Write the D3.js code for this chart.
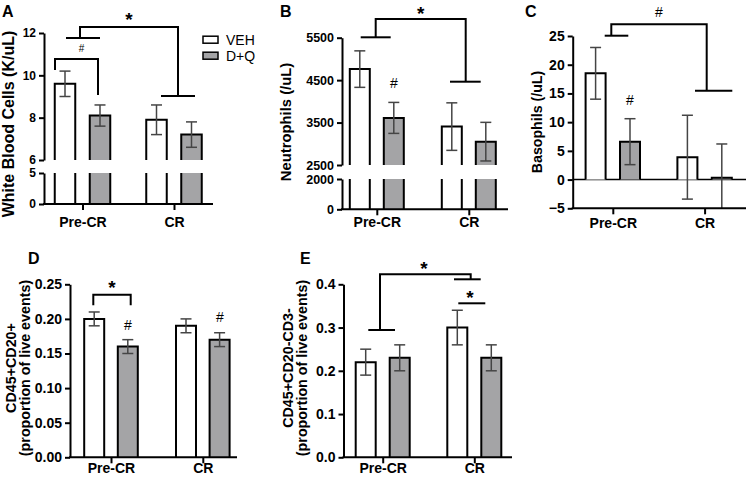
<!DOCTYPE html>
<html><head><meta charset="utf-8">
<script src="https://cdn.jsdelivr.net/npm/d3@7"></script>
<style>body{margin:0;background:#fff}svg{display:block;font-family:"Liberation Sans",Arial,sans-serif}</style>
</head><body><svg id="c" width="746" height="479"></svg>
<script>
// ---------- DATA ----------
const categories = ["Pre-CR", "CR"];
const groups = ["VEH", "D+Q"];

const wbcVEH = [9.6, 7.9],   wbcVEHerr = [0.6, 0.7];
const wbcDQ  = [8.1, 7.2],   wbcDQerr  = [0.5, 0.6];

const neuVEH = [4760, 3405], neuVEHerr = [430, 560];
const neuDQ  = [3610, 3050], neuDQerr  = [365, 455];

const basVEH = [18.5, 3.9],  basVEHerr = [4.5, 7.3];
const basDQ  = [6.6, 0.3],   basDQerr  = [4.0, 5.9];

const bVEH = [0.20, 0.19],   bVEHerr = [0.01, 0.01];
const bDQ  = [0.16, 0.17],   bDQerr  = [0.01, 0.01];

const nkVEH = [0.22, 0.30],  nkVEHerr = [0.03, 0.04];
const nkDQ  = [0.23, 0.23],  nkDQerr  = [0.03, 0.03];

const ticksA = [[0, 5], [6, 8, 10, 12]];
const ticksB = [[0, 2000], [2500, 3500, 4500, 5500]];
const ticksC = [-5, 0, 5, 10, 15, 20, 25];
const ticksD = [0, 0.05, 0.10, 0.15, 0.20, 0.25];
const ticksE = [0, 0.1, 0.2, 0.3, 0.4];

// ---------- LAYOUT ----------
const FONT = '"Liberation Sans", Arial, sans-serif';
const GRAY = "#a4a4a6", ERR = "#454545";
const svg = d3.select("#c");

const panels = [
  {letter:"A", lx:2, ly:17, x0:44, xEnd:213, c0:82.5, step:91.5, d:17.5, w:22.5,
   segs:[{dom:[0,5], rng:[204,173]}, {dom:[6,12], rng:[160,33]}], ticks:ticksA, fmt:d3.format("d"),
   base:0, veh:wbcVEH, vehE:wbcVEHerr, dq:wbcDQ, dqE:wbcDQerr,
   title:["White Blood Cells (K/uL)"], tx:[8], ty:124, tsize:16, tickFont:12, catY:227},
  {letter:"B", lx:280, ly:17, x0:342, xEnd:508, c0:376.8, step:92, d:17, w:22,
   segs:[{dom:[0,2000], rng:[209.3,179]}, {dom:[2500,5500], rng:[165,37.7]}], ticks:ticksB, fmt:d3.format("d"),
   base:0, veh:neuVEH, vehE:neuVEHerr, dq:neuDQ, dqE:neuDQerr,
   title:["Neutrophils (/uL)"], tx:[286], ty:122, tsize:14.8, tickFont:12.5, catY:227},
  {letter:"C", lx:525, ly:17, x0:572.7, xEnd:746, c0:612.8, step:91.8, d:17.2, w:22,
   segs:[{dom:[-5,25], rng:[208.3,36]}], ticks:[ticksC], fmt:d3.format("d"),
   base:0, zeroLine:true, veh:basVEH, vehE:basVEHerr, dq:basDQ, dqE:basDQerr,
   title:["Basophils (/uL)"], tx:[537], ty:122, tsize:14.2, tickFont:14, catY:228},
  {letter:"D", lx:28, ly:264, x0:70, xEnd:237, c0:111, step:91.8, d:16.8, w:22,
   segs:[{dom:[0,0.25], rng:[457.3,284.3]}], ticks:[ticksD], fmt:d3.format(".2f"),
   base:0, veh:bVEH, vehE:bVEHerr, dq:bDQ, dqE:bDQerr,
   title:["CD45+CD20+", "(proportion of live events)"], tx:[11, 25], ty:368, tsize:14.3, tickFont:14, catY:473},
  {letter:"E", lx:300, ly:264, x0:343.5, xEnd:512, c0:382.7, step:91.6, d:17, w:22,
   segs:[{dom:[0,0.4], rng:[457.3,284.3]}], ticks:[ticksE], fmt:d3.format(".1f"),
   base:0, veh:nkVEH, vehE:nkVEHerr, dq:nkDQ, dqE:nkDQerr,
   title:["CD45+CD20-CD3-", "(proportion of live events)"], tx:[288, 302], ty:368, tsize:14.3, tickFont:14, catY:473}
];

// significance annotations (decorations, pixel space)
const annotations = [
  {paths:["M55,70V59H98V95","M66,38H100","M80,38V27H178V96","M161,96H195"],
   marks:[{t:"#",x:81.5,y:48,s:10,b:false},{t:"*",x:129,y:15,s:19,b:true}]},
  {paths:["M360.7,37.3H390.7","M375.7,37.3V19H465.7V81.7","M450,81.7H480.7"],
   marks:[{t:"*",x:420.7,y:9.5,s:19,b:true},{t:"#",x:394,y:83,s:14,b:false}]},
  {paths:["M604.7,35.7H628.3","M611.3,35.7V24.3H706.7V90.7","M695,90.7H732.3"],
   marks:[{t:"#",x:659,y:11.7,s:14,b:false},{t:"#",x:630,y:100,s:14,b:false}]},
  {paths:["M93.3,305.3V294.7H130.7V305.3"],
   marks:[{t:"*",x:112,y:283.3,s:19,b:true},{t:"#",x:128,y:325,s:14,b:false},{t:"#",x:220,y:317.3,s:14,b:false}]},
  {paths:["M368.3,330H395","M380,330V274.3H470.7V279.3","M454,279.3H480.7","M458.3,303.3H485.3"],
   marks:[{t:"*",x:424,y:264,s:19,b:true},{t:"*",x:470,y:293.3,s:19,b:true}]}
];

function drawPanel(p) {
  const g = svg.append("g");
  const pad = (p.c0 - p.x0) / p.step;
  const x = d3.scalePoint().domain(categories)
    .range([p.x0, p.x0 + p.step * (1 + 2 * pad)]).padding(pad);
  const half = p.d + p.w / 2;
  const x1 = d3.scaleBand().domain(groups).range([-half, half]).paddingInner((2 * p.d - p.w) / (2 * p.d));
  const vals = {VEH: [p.veh, p.vehE], "D+Q": [p.dq, p.dqE]};

  p.segs.forEach((s, si) => {
    const y = d3.scaleLinear().domain(s.dom).range(s.rng);
    const ax = g.append("g").attr("transform", `translate(${p.x0},0)`)
      .call(d3.axisLeft(y).tickValues(p.ticks[si]).tickFormat(p.fmt).tickSize(5).tickSizeOuter(0));
    ax.select(".domain").attr("stroke", "#000").attr("stroke-width", 2);
    ax.selectAll(".tick line").attr("stroke", "#000").attr("stroke-width", 2);
    ax.selectAll(".tick text").attr("font-family", FONT).attr("font-size", p.tickFont)
      .attr("font-weight", "bold").attr("fill", "#000");

    if (p.zeroLine) {
      g.append("line").attr("x1", p.x0).attr("x2", p.xEnd).attr("y1", y(p.base)).attr("y2", y(p.base))
        .attr("stroke", "#000").attr("stroke-width", 1.5);
    }

    groups.forEach(grp => {
      const [m, e] = vals[grp];
      categories.forEach((c, ci) => {
        const v = m[ci];
        const lo = Math.max(p.base, s.dom[0]);
        if (v < s.dom[0]) return;
        const hiV = Math.min(v, s.dom[1]);
        const cx = x(c) + x1(grp) + x1.bandwidth() / 2;
        const l = cx - p.w / 2 + 1, r = cx + p.w / 2 - 1;
        const yb = y(lo), yt = y(hiV);
        g.append("rect").attr("x", l).attr("width", r - l)
          .attr("y", Math.min(yb, yt)).attr("height", Math.abs(yb - yt))
          .attr("fill", grp === "VEH" ? "#fff" : GRAY);
        const top = v <= s.dom[1];
        const path = top ? `M${l},${yb}V${yt}H${r}V${yb}` : `M${l},${yb}V${yt}M${r},${yt}V${yb}`;
        g.append("path").attr("d", path).attr("fill", "none").attr("stroke", "#000").attr("stroke-width", 2);
        if (v >= s.dom[0] && v <= s.dom[1]) {
          const e0 = Math.max(v - e[ci], s.dom[0]), e1 = Math.min(v + e[ci], s.dom[1]);
          const eg = g.append("g").attr("stroke", ERR).attr("stroke-width", 1.5);
          eg.append("line").attr("x1", cx).attr("x2", cx).attr("y1", y(e0)).attr("y2", y(e1));
          eg.append("line").attr("x1", cx - 5.5).attr("x2", cx + 5.5).attr("y1", y(e1)).attr("y2", y(e1));
          if (v - e[ci] >= s.dom[0])
            eg.append("line").attr("x1", cx - 5.5).attr("x2", cx + 5.5).attr("y1", y(e0)).attr("y2", y(e0));
        }
      });
    });
  });

  const yBot = p.segs[0].rng[0];
  const xa = g.append("g").attr("transform", `translate(0,${yBot})`)
    .call(d3.axisBottom(x).tickSize(6).tickSizeOuter(0));
  xa.select(".domain").remove();
  xa.selectAll(".tick line").attr("stroke", "#000").attr("stroke-width", 2);
  xa.selectAll(".tick text").attr("font-family", FONT).attr("font-size", 14).attr("font-weight", "bold")
    .attr("fill", "#000").attr("dy", null).attr("y", p.catY - yBot);
  g.append("line").attr("x1", p.x0 - 1).attr("x2", p.xEnd).attr("y1", yBot).attr("y2", yBot)
    .attr("stroke", "#000").attr("stroke-width", 2);

  p.title.forEach((t, i) => {
    g.append("text").attr("transform", `translate(${p.tx[i]},${p.ty}) rotate(-90)`)
      .attr("text-anchor", "middle").attr("dominant-baseline", "central")
      .attr("font-family", FONT).attr("font-weight", "bold").attr("font-size", p.tsize).text(t);
  });
  g.append("text").attr("x", p.lx).attr("y", p.ly).attr("font-family", FONT)
    .attr("font-weight", "bold").attr("font-size", 16).text(p.letter);
}

panels.forEach(drawPanel);

annotations.forEach(a => {
  a.paths.forEach(d => svg.append("path").attr("d", d).attr("fill", "none")
    .attr("stroke", "#000").attr("stroke-width", 2));
  a.marks.forEach(m => {
    const off = m.t === "*" ? 0.57 : 0.36;
    svg.append("text").attr("x", m.x).attr("y", m.y + off * m.s).attr("text-anchor", "middle")
      .attr("font-family", FONT).attr("font-size", m.s).attr("font-weight", m.b ? "bold" : "normal").text(m.t);
  });
});

const leg = svg.append("g");
groups.forEach((grp, i) => {
  const yy = 39.7 + i * 16;
  leg.append("rect").attr("x", 203).attr("y", yy - 3.5).attr("width", 15).attr("height", 7)
    .attr("fill", grp === "VEH" ? "#fff" : GRAY).attr("stroke", "#000").attr("stroke-width", 1.5);
  leg.append("text").attr("x", 226).attr("y", yy).attr("dominant-baseline", "central")
    .attr("font-family", FONT).attr("font-size", 14).text(grp);
});
</script></body></html>
